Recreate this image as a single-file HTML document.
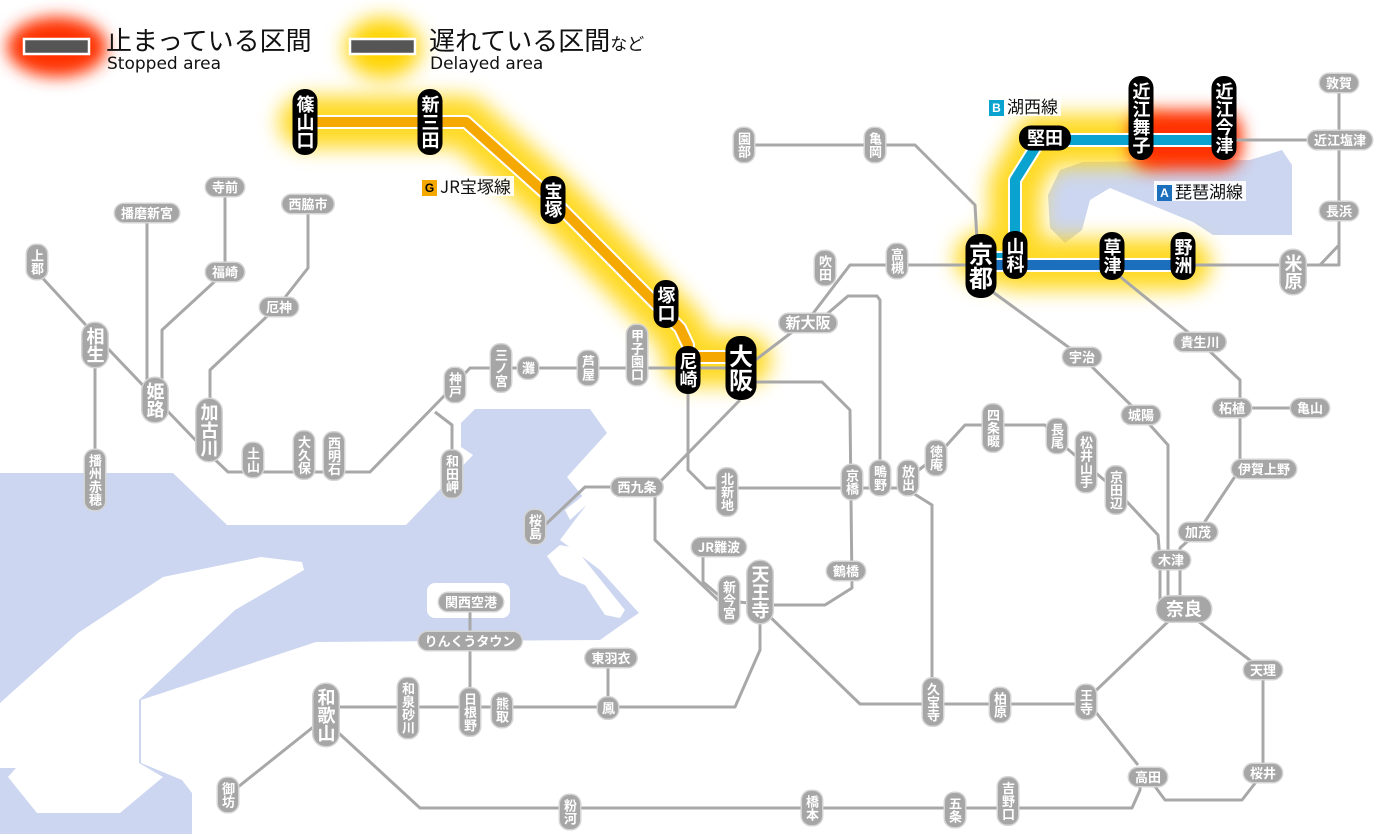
<!DOCTYPE html>
<html><head><meta charset="utf-8">
<style>
html,body{margin:0;padding:0;background:#fff;}
#w{position:relative;width:1400px;height:834px;overflow:hidden;font-family:"Liberation Sans","Noto Sans CJK JP",sans-serif;}
svg{position:absolute;left:0;top:0;}
.s{position:absolute;transform:translate(-50%,-50%);background:#a6a6a6;color:#fff;font-family:"Noto Sans CJK JP",sans-serif;font-weight:bold;font-size:13px;line-height:14px;border-radius:9px;white-space:nowrap;text-align:center;box-shadow:0 0 0 1.5px #d4d4d4;}
.v{writing-mode:vertical-rl;padding:4px 3px;}
.h{padding:2px 6px;}
.L{font-size:18px;line-height:19px;border-radius:12px;}
.k{background:#000;color:#fff;font-size:18px;line-height:19px;border-radius:12px;box-shadow:none;font-weight:bold;}
.v.k{padding:6px 3px;}
.K{font-size:24px;line-height:25px;border-radius:14px;}
.v.K{padding:8px 3px;}
.lab{position:absolute;font-family:"Noto Sans CJK JP",sans-serif;font-size:17px;color:#111;background:rgba(255,255,255,.9);padding:0 3px;white-space:nowrap;line-height:20px;}
.lab b{display:inline-block;color:#fff;font-family:"Liberation Sans",sans-serif;font-size:12px;width:15px;height:16px;line-height:16px;text-align:center;margin-right:3px;vertical-align:1px;}
</style></head><body><div id="w">
<svg width="1400" height="834" viewBox="0 0 1400 834">
<defs>
<filter id="bl" x="-20%" y="-50%" width="140%" height="200%"><feGaussianBlur stdDeviation="10"/></filter>
<filter id="bl2" x="-50%" y="-50%" width="200%" height="200%"><feGaussianBlur stdDeviation="8"/></filter>
</defs>
<path fill="#ccd6f0" d="M0,473 L173,473 L227,525 L406,525 L473,455 L461,447 L461,423 L475,409 L590,409 L607,433 L567,477 L588,503 L575,520 L560,540 L600,570 L639,613 L624,623 L600,640 L316,642 L141,700 L141,763 L182,780 L192,793 L192,834 L0,834 Z"/>
<path fill="#fff" d="M0,703 L78,633 L163,577 L212,567 L261,557 L302,562 L304,570 L235,610 L139,700 L139,763 L163,777 L120,813 L37,813 L8,777 L16,768 L0,768 Z"/>
<path fill="#fff" d="M547,556 L560,545 L575,548 L625,610 L620,618 L605,615 L585,585 L560,575 Z"/>
<path fill="#fff" d="M565,510 L590,490 L592,500 L570,520 Z"/>
<rect x="427" y="583" width="83" height="35" rx="8" fill="#fff"/>
<path fill="#ccd6f0" d="M1060,170 L1083,162 L1250,160 L1282,150 L1292,165 L1292,235 L1213,235 L1193,222 L1110,188 L1090,200 L1082,230 L1065,243 L1050,228 L1048,195 Z"/>
<g filter="url(#bl)" fill="none" stroke-linecap="round" stroke-linejoin="round">
<path stroke="#ffd400" stroke-width="52" opacity=".85" d="M305,122 L465,122 L553,200 L680,330 L688,350 L688,360 L745,360"/>
<path stroke="#ffd400" stroke-width="52" opacity=".85" d="M981,258 L1015,258 L1015,185 L1040,140 L1140,140 M1015,264 L1185,264"/>
<ellipse cx="383" cy="48" rx="38" ry="30" fill="#ffd400" stroke="none"/>
</g>
<g filter="url(#bl2)">
<rect x="1130" y="110" width="112" height="60" rx="22" fill="#ff3300"/>
<ellipse cx="57" cy="47" rx="50" ry="30" fill="#ff3300"/>
</g>
<rect x="24" y="39" width="65" height="15" fill="#555" stroke="#fff" stroke-width="2.5"/>
<rect x="350" y="39" width="65" height="15" fill="#555" stroke="#fff" stroke-width="2.5"/>
<g fill="none" stroke="#a8a8a8" stroke-width="3" stroke-linejoin="round">
<path d="M37,272 L95,335 L155,398 L205,450 L228,472 L370,472 L445,395 L470,368 L745,368"/>
<path d="M95,345 L95,490"/>
<path d="M147,213 L147,400"/>
<path d="M225,187 L225,272 L162,330 L162,390"/>
<path d="M308,204 L308,268 L279,305 L210,370 L210,420"/>
<path d="M435,412 L452,425 L452,470"/>
<path d="M745,368 L808,320 L850,265 L1339,265 L1339,245 M1320,265 L1339,245 L1339,83"/>
<path d="M1225,140 L1340,140"/>
<path d="M745,145 L915,145 L975,205 L977,240"/>
<path d="M820,320 L848,296 L877,296 L880,300 L880,480"/>
<path d="M688,370 L688,470 L706,488 L910,488"/>
<path d="M750,382 L822,382 L850,410 L852,588 L825,605 L770,605"/>
<path d="M740,400 L655,487 L655,540 L718,600 L770,605"/>
<path d="M637,487 L585,487 L545,525"/>
<path d="M703,548 L703,582 L722,598"/>
<path d="M908,478 L936,457 L965,425 L1045,425 L1057,440 L1116,490 L1158,535 L1160,560 L1160,605"/>
<path d="M908,490 L932,505 L932,705"/>
<path d="M990,290 L1082,357 L1141,415 L1168,445 L1168,605"/>
<path d="M1112,270 L1200,342 L1240,380 L1240,469 L1198,532 L1180,548 L1180,605"/>
<path d="M1232,408 L1310,408"/>
<path d="M1190,615 L1263,670 L1263,773 L1242,800 L1165,800 L1148,777"/>
<path d="M1175,615 L1086,700 L1138,765"/>
<path d="M765,612 L860,704 L1086,704"/>
<path d="M760,615 L760,650 L735,707 L326,707"/>
<path d="M470,602 L470,710"/>
<path d="M608,658 L608,708"/>
<path d="M322,720 L228,795"/>
<path d="M330,725 L420,808 L1132,808 L1140,790 L1140,777"/>
</g>
<g fill="none" stroke-linejoin="round">
<path stroke="#fff" stroke-width="14" d="M305,122 L466,122 L553,200 L680,328 L688,345 L688,357 L745,357"/>
<path stroke="#f5a800" stroke-width="10" d="M305,122 L466,122 L553,200 L680,328 L688,345 L688,357 L745,357"/>
<path stroke="#fff" stroke-width="14" d="M975,258 L1015,258 L1015,180 L1040,140 L1225,140"/>
<path stroke="#0aa3cf" stroke-width="10" d="M975,258 L1015,258 L1015,180 L1040,140 L1225,140"/>
<path stroke="#fff" stroke-width="14" d="M975,265 L1185,265"/>
<path stroke="#1c6fbc" stroke-width="10" d="M975,265 L1185,265"/>
</g>
</svg>

<div style="position:absolute;left:106px;top:25px;font-family:'Noto Sans CJK JP',sans-serif;font-size:26px;line-height:30px;color:#111">止まっている区間</div>
<div style="position:absolute;left:107px;top:54px;font-family:'DejaVu Sans',sans-serif;font-size:17px;color:#111">Stopped area</div>
<div style="position:absolute;left:429px;top:25px;font-family:'Noto Sans CJK JP',sans-serif;font-size:26px;line-height:30px;color:#111">遅れている区間<span style="font-size:17px">など</span></div>
<div style="position:absolute;left:430px;top:54px;font-family:'DejaVu Sans',sans-serif;font-size:17px;color:#111">Delayed area</div>

<div class="lab" style="left:419px;top:176px"><b style="background:#f5a800;color:#000">G</b>JR宝塚線</div>
<div class="lab" style="left:986px;top:96px"><b style="background:#0aa3cf">B</b>湖西線</div>
<div class="lab" style="left:1154px;top:181px"><b style="background:#1c6fbc">A</b>琵琶湖線</div>

<div class="s v k" style="left:305px;top:122px">篠山口</div>
<div class="s v k" style="left:430px;top:122px">新三田</div>
<div class="s v k" style="left:553px;top:200px">宝塚</div>
<div class="s v k" style="left:666px;top:304px">塚口</div>
<div class="s v k" style="left:688px;top:370px">尼崎</div>
<div class="s v k K" style="left:741px;top:368px">大阪</div>
<div class="s v k K" style="left:981px;top:266px">京都</div>
<div class="s v k" style="left:1015px;top:255px">山科</div>
<div class="s h k" style="left:1045px;top:138px;padding:3px 8px">堅田</div>
<div class="s v k" style="left:1141px;top:118px">近江舞子</div>
<div class="s v k" style="left:1224px;top:118px">近江今津</div>
<div class="s v k" style="left:1112px;top:256px">草津</div>
<div class="s v k" style="left:1183px;top:256px">野洲</div>

<div class="s v" style="left:37px;top:262px">上郡</div>
<div class="s v L" style="left:95px;top:345px">相生</div>
<div class="s v" style="left:95px;top:480px">播州赤穂</div>
<div class="s v L" style="left:155px;top:400px">姫路</div>
<div class="s h" style="left:147px;top:213px">播磨新宮</div>
<div class="s h" style="left:225px;top:187px">寺前</div>
<div class="s h" style="left:225px;top:272px">福崎</div>
<div class="s h" style="left:308px;top:204px">西脇市</div>
<div class="s h" style="left:279px;top:307px">厄神</div>
<div class="s v L" style="left:209px;top:430px">加古川</div>
<div class="s v" style="left:253px;top:460px">土山</div>
<div class="s v" style="left:304px;top:455px">大久保</div>
<div class="s v" style="left:334px;top:456px">西明石</div>
<div class="s v" style="left:455px;top:385px">神戸</div>
<div class="s v" style="left:452px;top:474px">和田岬</div>
<div class="s v" style="left:501px;top:368px">三ノ宮</div>
<div class="s v" style="left:528px;top:368px">灘</div>
<div class="s v" style="left:588px;top:368px">芦屋</div>
<div class="s v" style="left:637px;top:355px">甲子園口</div>
<div class="s h" style="left:808px;top:323px;font-size:15px">新大阪</div>
<div class="s v" style="left:825px;top:268px">吹田</div>
<div class="s v" style="left:897px;top:261px">高槻</div>
<div class="s v" style="left:744px;top:145px">園部</div>
<div class="s v" style="left:875px;top:145px">亀岡</div>
<div class="s h" style="left:637px;top:487px">西九条</div>
<div class="s v" style="left:535px;top:527px">桜島</div>
<div class="s v" style="left:727px;top:492px">北新地</div>
<div class="s v" style="left:852px;top:482px">京橋</div>
<div class="s v" style="left:880px;top:478px">鴫野</div>
<div class="s v" style="left:908px;top:478px">放出</div>
<div class="s v" style="left:936px;top:458px">徳庵</div>
<div class="s v" style="left:993px;top:428px">四条畷</div>
<div class="s v" style="left:1057px;top:436px">長尾</div>
<div class="s v" style="left:1086px;top:462px">松井山手</div>
<div class="s v" style="left:1116px;top:490px">京田辺</div>
<div class="s h" style="left:1082px;top:357px">宇治</div>
<div class="s h" style="left:1141px;top:415px">城陽</div>
<div class="s h" style="left:1200px;top:342px">貴生川</div>
<div class="s h" style="left:1232px;top:408px">柘植</div>
<div class="s h" style="left:1310px;top:408px">亀山</div>
<div class="s h" style="left:1264px;top:469px">伊賀上野</div>
<div class="s h" style="left:1198px;top:532px">加茂</div>
<div class="s h" style="left:1171px;top:560px">木津</div>
<div class="s h L" style="left:1184px;top:609px;padding:3px 9px">奈良</div>
<div class="s h" style="left:1263px;top:670px">天理</div>
<div class="s h" style="left:1263px;top:773px">桜井</div>
<div class="s h" style="left:1148px;top:777px">高田</div>
<div class="s v" style="left:1086px;top:702px">王寺</div>
<div class="s v" style="left:1000px;top:705px">柏原</div>
<div class="s v" style="left:933px;top:702px">久宝寺</div>
<div class="s h" style="left:719px;top:547px">JR難波</div>
<div class="s v" style="left:729px;top:600px">新今宮</div>
<div class="s v L" style="left:760px;top:592px">天王寺</div>
<div class="s h" style="left:846px;top:571px">鶴橋</div>
<div class="s h" style="left:471px;top:602px">関西空港</div>
<div class="s h" style="left:470px;top:641px">りんくうタウン</div>
<div class="s h" style="left:611px;top:658px">東羽衣</div>
<div class="s v" style="left:608px;top:708px">鳳</div>
<div class="s v" style="left:502px;top:710px">熊取</div>
<div class="s v" style="left:470px;top:712px">日根野</div>
<div class="s v" style="left:408px;top:708px">和泉砂川</div>
<div class="s v L" style="left:326px;top:715px">和歌山</div>
<div class="s v" style="left:228px;top:795px">御坊</div>
<div class="s v" style="left:570px;top:812px">粉河</div>
<div class="s v" style="left:812px;top:808px">橋本</div>
<div class="s v" style="left:955px;top:810px">五条</div>
<div class="s v" style="left:1008px;top:801px">吉野口</div>
<div class="s v L" style="left:1293px;top:272px">米原</div>
<div class="s h" style="left:1339px;top:211px">長浜</div>
<div class="s h" style="left:1340px;top:140px">近江塩津</div>
<div class="s h" style="left:1339px;top:83px">敦賀</div>
</div></body></html>
